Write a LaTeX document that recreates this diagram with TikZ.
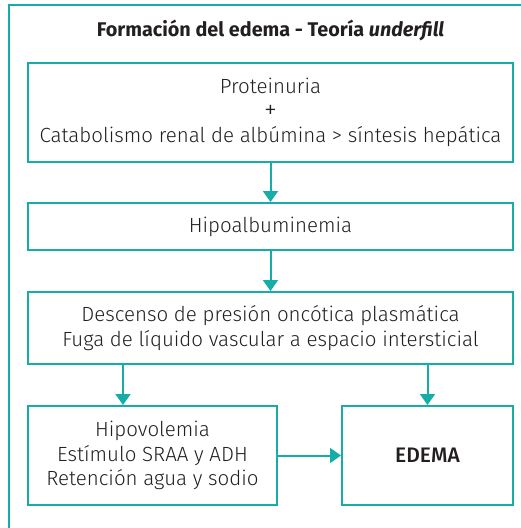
\documentclass[tikz,border=0pt]{standalone}
\usepackage{fontspec}
\setmainfont{Fira Sans}
\newfontfamily\lightf{Fira Sans Light}
\newfontfamily\medf{Fira Sans Medium}
\usetikzlibrary{arrows.meta}
\definecolor{teal1}{RGB}{22,172,168}
\definecolor{txt}{RGB}{35,31,32}
\begin{document}
\begin{tikzpicture}[x=1pt,y=-1pt,
  box/.style={draw=teal1,line width=2pt,inner sep=0pt,align=center,text=txt,
    font=\lightf\fontsize{20.5}{24.5}\selectfont},
  arr/.style={draw=teal1,line width=2pt,-{Triangle[length=11pt,width=15pt]}}]
\useasboundingbox (0,0) rectangle (521,528);
\draw[teal1,line width=2pt] (9,5) rectangle (540,545);
\node[text=txt,font=\fontsize{19.8}{21}\selectfont\bfseries] (title) at (270.5,30) {Formación del edema - Teoría \textit{underfill}};
\node[box,minimum width=485pt,minimum height=99pt] (b1) at (270.5,112.5)
  {Proteinuria\\{\fontsize{26}{24.5}\selectfont +}\\Catabolismo renal de albúmina > síntesis hepática};
\node[box,minimum width=485pt,minimum height=47pt] (b2) at (270.5,226.5) {Hipoalbuminemia};
\node[box,minimum width=485pt,minimum height=72pt] (b3) at (270.5,328)
  {Descenso de presión oncótica plasmática\\Fuga de líquido vascular a espacio intersticial};
\node[box,minimum width=249pt,minimum height=99pt] (b4) at (152.5,455.5)
  {Hipovolemia\\Estímulo SRAA y ADH\\Retención agua y sodio};
\node[box,minimum width=171pt,minimum height=99pt,font=\medf\fontsize{21}{24.5}\selectfont] (b5) at (427.5,455.5) {EDEMA};
\coordinate (c1) at (123,0);
\draw[arr] (b1.south) -- (b2.north);
\draw[arr] (b2.south) -- (b3.north);
\draw[arr] (b3.south -| c1) -- (b4.north -| c1);
\draw[arr] (b3.south -| b5.north) -- (b5.north);
\draw[arr] (b4.east) -- (b5.west);
\end{tikzpicture}
\end{document}
